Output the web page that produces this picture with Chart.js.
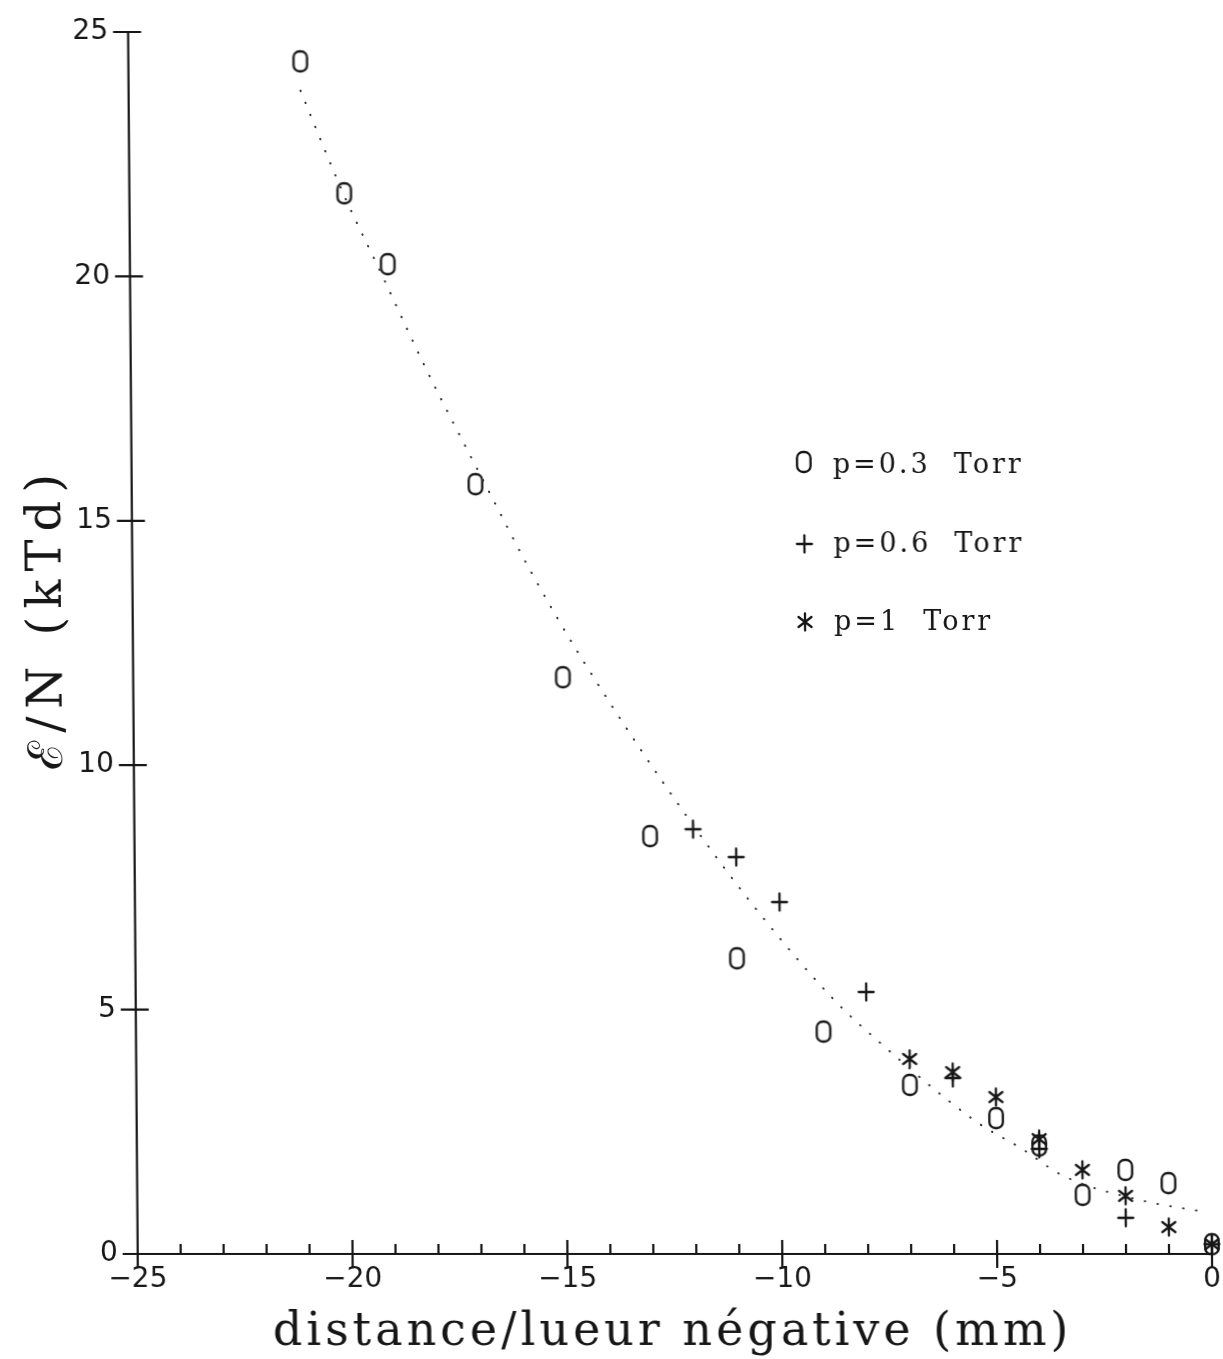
<!DOCTYPE html>
<html>
<head>
<meta charset="utf-8">
<script src="https://cdn.jsdelivr.net/npm/chart.js@4.4.1/dist/chart.umd.min.js"></script>
<style>
  html, body { margin: 0; padding: 0; background: #ffffff; overflow: hidden; }
  /* the plot leans very slightly to the left towards the top */
  #wrap { width: 1223px; height: 1359px; transform-origin: 0 1254px; transform: skewX(0.45deg); }
  canvas { display: block; }
</style>
</head>
<body>
<div id="wrap"><canvas id="c" width="1223" height="1359"></canvas></div>
<script>
// Reduced field E/N (kTd) versus distance to the negative glow (mm)
const distP03  = [-21, -20, -19, -17, -15, -13, -11, -9, -7, -5, -4, -3, -2, -1, 0];
const fieldP03 = [24.4, 21.7, 20.25, 15.75, 11.8, 8.55, 6.05, 4.55, 3.46, 2.78, 2.22, 1.21, 1.72, 1.45, 0.2];

const distP06  = [-12, -11, -10, -8, -6, -4, -2, 0];
const fieldP06 = [8.69, 8.12, 7.2, 5.36, 3.6, 2.15, 0.74, 0.2];

const distP1   = [-7, -6, -5, -4, -3, -2, -1, 0];
const fieldP1  = [3.99, 3.72, 3.21, 2.35, 1.72, 1.19, 0.55, 0.2];

// dotted trend curve
const fitDist  = [-21, -20, -19.2, -18.15, -16.6, -15.75, -14.5, -12.1, -10.45, -8.75, -7.85, -5.45, -4.4, -3.45, -1.65, -0.1];
const fitField = [23.8, 21.65, 20.15, 18.15, 15.45, 14.0, 12.1, 8.9, 6.95, 5.2, 4.45, 2.7, 2.15, 1.6, 1.1, 0.85];

const seriesLabels = ['p=0.3  Torr', 'p=0.6  Torr', 'p=1  Torr'];
const xTitle = 'distance/lueur négative (mm)';
const yTitle = 'ℰ/N (kTd)';

const INK = '#161616';

// plotter-style glyphs used as point markers
function glyph(kind) {
  const c = document.createElement('canvas');
  c.width = 26; c.height = 28;
  const g = c.getContext('2d');
  g.strokeStyle = INK; g.lineWidth = 2.3; g.lineCap = 'round';
  g.translate(13, 14);
  g.beginPath();
  if (kind === 'zero') {
    const w = 13.5, h = 20, r = 6;
    g.roundRect(-w / 2, -h / 2, w, h, r);
  } else if (kind === 'plus') {
    g.moveTo(0, -8.5); g.lineTo(0, 8.5);
    g.moveTo(-7.5, 0); g.lineTo(7.5, 0);
  } else {
    g.moveTo(0, -8.5); g.lineTo(0, 8.5);
    g.moveTo(-6.5, -5); g.lineTo(6.5, 5);
    g.moveTo(-6.5, 5); g.lineTo(6.5, -5);
  }
  g.stroke();
  return c;
}
const markZero = glyph('zero');
const markPlus = glyph('plus');
const markStar = glyph('star');

const pts = (xs, ys) => xs.map((x, i) => ({ x, y: ys[i] }));

const axesPlugin = {
  id: 'plotterAxes',
  afterDraw(chart) {
    const { ctx, scales: { x, y } } = chart;
    const y0 = y.getPixelForValue(0);
    const x0 = x.getPixelForValue(-25);
    ctx.save();
    ctx.strokeStyle = INK;
    ctx.lineWidth = 2.2;
    ctx.beginPath();
    ctx.moveTo(x0, y.getPixelForValue(25));
    ctx.lineTo(x0, y0);
    ctx.lineTo(x.getPixelForValue(0), y0);
    // x ticks: every millimetre, longer crossing ticks at labelled values
    for (let v = -25; v <= 0; v++) {
      const px = x.getPixelForValue(v);
      if (v % 5 === 0) { ctx.moveTo(px, y0 - 14); ctx.lineTo(px, y0 + 14); }
      else { ctx.moveTo(px, y0 - 10); ctx.lineTo(px, y0); }
    }
    // y ticks
    y.ticks.forEach(t => {
      const py = y.getPixelForValue(t.value);
      ctx.moveTo(x0 - 15, py); ctx.lineTo(x0 + 13, py);
    });
    ctx.stroke();

    // axis titles
    ctx.fillStyle = INK;
    ctx.font = '46px "DejaVu Serif"';
    ctx.letterSpacing = '4px';
    ctx.textAlign = 'center';
    ctx.textBaseline = 'alphabetic';
    ctx.fillText(xTitle, 672, 1345);

    ctx.save();
    ctx.translate(66, 622);
    ctx.rotate(-Math.PI / 2);
    ctx.font = '48px "DejaVu Serif"';
    ctx.letterSpacing = '8px';
    ctx.fillText(yTitle, 4, 0);
    ctx.restore();

    // key
    const marks = [markZero, markPlus, markStar];
    const rows = [{ gy: 462, by: 473 }, { gy: 544, by: 552 }, { gy: 622, by: 630 }];
    ctx.font = '27px "DejaVu Serif"';
    ctx.letterSpacing = '3px';
    ctx.textAlign = 'left';
    rows.forEach((r, i) => {
      const m = marks[i];
      ctx.drawImage(m, Math.round(810 - m.width / 2), Math.round(r.gy - m.height / 2));
      ctx.fillText(seriesLabels[i], 839, r.by);
    });
    ctx.restore();
  }
};

const tickFont = { family: 'DejaVu Sans', size: 28 };

new Chart(document.getElementById('c'), {
  type: 'scatter',
  data: {
    datasets: [
      {
        label: 'trend',
        data: pts(fitDist, fitField),
        showLine: true,
        pointRadius: 0,
        borderColor: '#333333',
        borderWidth: 2,
        borderDash: [0.5, 12.5],
        borderCapStyle: 'round',
        cubicInterpolationMode: 'monotone',
        clip: false
      },
      { label: seriesLabels[0], data: pts(distP03, fieldP03), pointStyle: markZero, pointRadius: 10, clip: false },
      { label: seriesLabels[1], data: pts(distP06, fieldP06), pointStyle: markPlus, pointRadius: 10, clip: false },
      { label: seriesLabels[2], data: pts(distP1, fieldP1), pointStyle: markStar, pointRadius: 10, clip: false }
    ]
  },
  options: {
    responsive: false,
    animation: false,
    events: [],
    layout: { padding: { top: 32, right: 11, left: 0, bottom: 0 } },
    plugins: { legend: { display: false }, tooltip: { enabled: false } },
    scales: {
      x: {
        type: 'linear', min: -25, max: 0,
        afterFit(s) { s.height = 105; s.paddingLeft = 0; s.paddingRight = 0; },
        grid: { display: false, drawTicks: false },
        border: { display: false },
        ticks: {
          stepSize: 5, padding: 9, autoSkip: false, maxRotation: 0,
          font: tickFont, color: INK,
          callback: v => (v < 0 ? '\u2212' + Math.abs(v) : String(v))
        }
      },
      y: {
        type: 'linear', min: 0, max: 25,
        afterFit(s) { s.width = 137.7; s.paddingTop = 0; s.paddingBottom = 0; },
        grid: { display: false, drawTicks: false },
        border: { display: false },
        ticks: { stepSize: 5, padding: 20, font: tickFont, color: INK }
      }
    }
  },
  plugins: [axesPlugin]
});
</script>
</body>
</html>
